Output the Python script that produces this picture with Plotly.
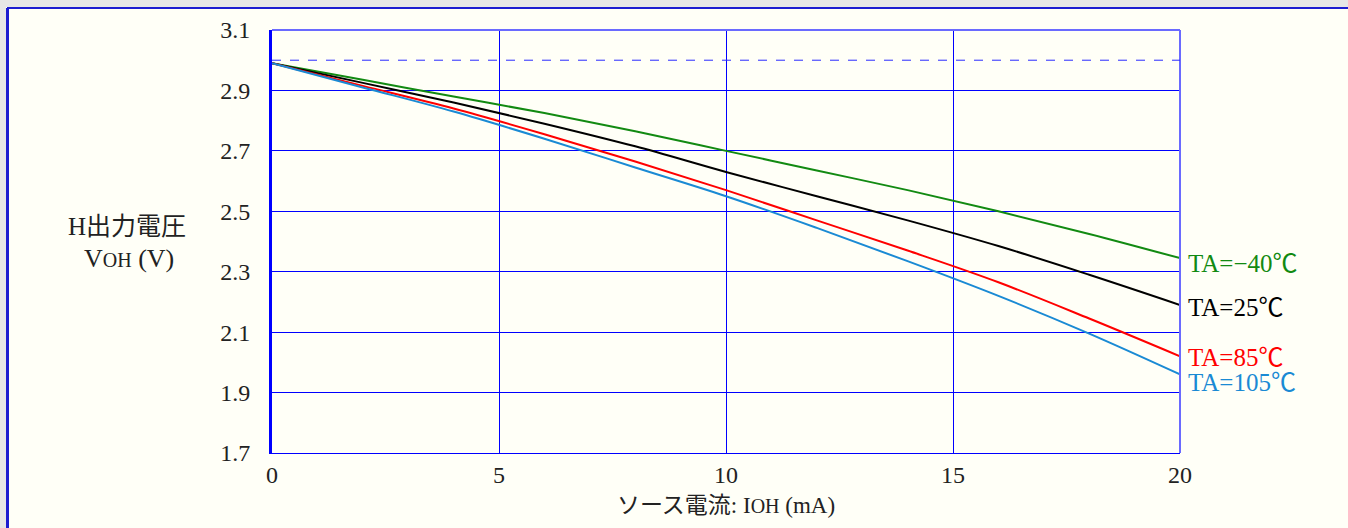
import plotly.graph_objects as go

# ---- data ----
current_ma = [0, 2, 4, 6, 8, 10, 12, 14, 16, 18, 20]
voh_m40 = [2.99, 2.935, 2.88, 2.825, 2.765, 2.70, 2.635, 2.57, 2.50, 2.425, 2.345]
voh_25 = [2.99, 2.925, 2.86, 2.79, 2.715, 2.63, 2.55, 2.47, 2.385, 2.29, 2.19]
voh_85 = [2.99, 2.915, 2.84, 2.755, 2.665, 2.57, 2.47, 2.37, 2.265, 2.145, 2.02]
voh_105 = [2.99, 2.91, 2.83, 2.74, 2.645, 2.55, 2.445, 2.335, 2.22, 2.095, 1.96]

series_names = ["TA=\u221240\u2103", "TA=25\u2103", "TA=85\u2103", "TA=105\u2103"]
series_values = [voh_m40, voh_25, voh_85, voh_105]
series_colors = ["#128a12", "#000000", "#ff0000", "#1a8ad4"]
label_y = [2.328, 2.18, 2.015, 1.932]

ref_voltage = 3.0
x_ticks = [0, 5, 10, 15, 20]
y_ticks = [1.7, 1.9, 2.1, 2.3, 2.5, 2.7, 2.9, 3.1]

W, H = 1348, 528
L, R, T, B = 272, 1180, 30, 453
def px(x):
    return (x - L) / (R - L)
def py(y):
    return (B - y) / (B - T)

SERIF = "Liberation Serif, Noto Sans CJK JP, serif"
GRID = "#0000ff"

fig = go.Figure()
for name, vals, col in zip(series_names, series_values, series_colors):
    fig.add_trace(go.Scatter(x=current_ma, y=vals, mode="lines", name=name,
                             line=dict(color=col, width=2, shape="spline", smoothing=1.0),
                             showlegend=False, hoverinfo="skip"))

shapes = [
    # page chrome
    dict(type="rect", xref="paper", yref="paper", x0=px(0), x1=px(W), y0=py(7), y1=py(-5),
         fillcolor="#e6e6e6", line=dict(width=0), layer="below"),
    dict(type="rect", xref="paper", yref="paper", x0=px(-5), x1=px(6), y0=py(H + 5), y1=py(-5),
         fillcolor="#e6e6e6", line=dict(width=0), layer="below"),
    dict(type="line", xref="paper", yref="paper", x0=px(7), x1=px(W + 5), y0=py(8), y1=py(8),
         line=dict(color="#1c1cd0", width=2)),
    dict(type="line", xref="paper", yref="paper", x0=px(7.5), x1=px(7.5), y0=py(8), y1=py(H + 5),
         line=dict(color="#1c1cd0", width=3)),
    # plot border top/right
    dict(type="line", xref="paper", yref="paper", x0=0, x1=1, y0=1, y1=1,
         line=dict(color="#6a6aff", width=2)),
    dict(type="line", xref="paper", yref="paper", x0=1, x1=1, y0=0, y1=1,
         line=dict(color="#6a6aff", width=2)),
    # reference dashed line
    dict(type="line", xref="paper", yref="y", x0=0, x1=1, y0=ref_voltage, y1=ref_voltage,
         line=dict(color="#2a2aff", width=1, dash="dash")),
]

annotations = []
for name, ly, col in zip(series_names, label_y, series_colors):
    annotations.append(dict(x=20, y=ly, xref="x", yref="y", text=name, showarrow=False,
                            xanchor="left", yanchor="middle", xshift=6,
                            font=dict(family=SERIF, size=25, color=col)))
annotations += [
    dict(x=px(127), y=py(226), xref="paper", yref="paper", text="H出力電圧", showarrow=False,
         xanchor="center", yanchor="middle", font=dict(family=SERIF, size=25, color="#222")),
    dict(x=px(129), y=py(258), xref="paper", yref="paper",
         text="V<span style='font-size:20px'>OH</span> (V)", showarrow=False,
         xanchor="center", yanchor="middle", font=dict(family=SERIF, size=26, color="#222")),
    dict(x=px(726), y=py(505), xref="paper", yref="paper",
         text="ソース電流: I<span style='font-size:20px'>OH</span> (mA)", showarrow=False,
         xanchor="center", yanchor="middle", font=dict(family=SERIF, size=23, color="#222")),
]

fig.update_layout(
    width=W, height=H,
    margin=dict(l=L, r=W - R, t=T, b=H - B, pad=0),
    paper_bgcolor="#fffff7", plot_bgcolor="#fffff7",
    shapes=shapes, annotations=annotations,
    xaxis=dict(range=[0, 20], tickvals=x_ticks, ticktext=[str(v) for v in x_ticks],
               showgrid=True, gridcolor=GRID, gridwidth=1, zeroline=False,
               showline=True, linecolor=GRID, linewidth=1,
               ticks="", ticklabelstandoff=0,
               tickfont=dict(family=SERIF, size=24, color="#222"), fixedrange=True),
    yaxis=dict(range=[1.7, 3.1], tickvals=y_ticks, ticktext=[f"{v:.1f}" for v in y_ticks],
               showgrid=True, gridcolor=GRID, gridwidth=1, zeroline=False,
               showline=True, linecolor="#0000ff", linewidth=3,
               ticks="", ticklabelstandoff=14,
               tickfont=dict(family=SERIF, size=24, color="#222"), fixedrange=True),
)

fig.write_html("out.html", config={"displayModeBar": False},
               post_script="document.body.style.margin='0';document.body.style.background='#e6e6e6';")
